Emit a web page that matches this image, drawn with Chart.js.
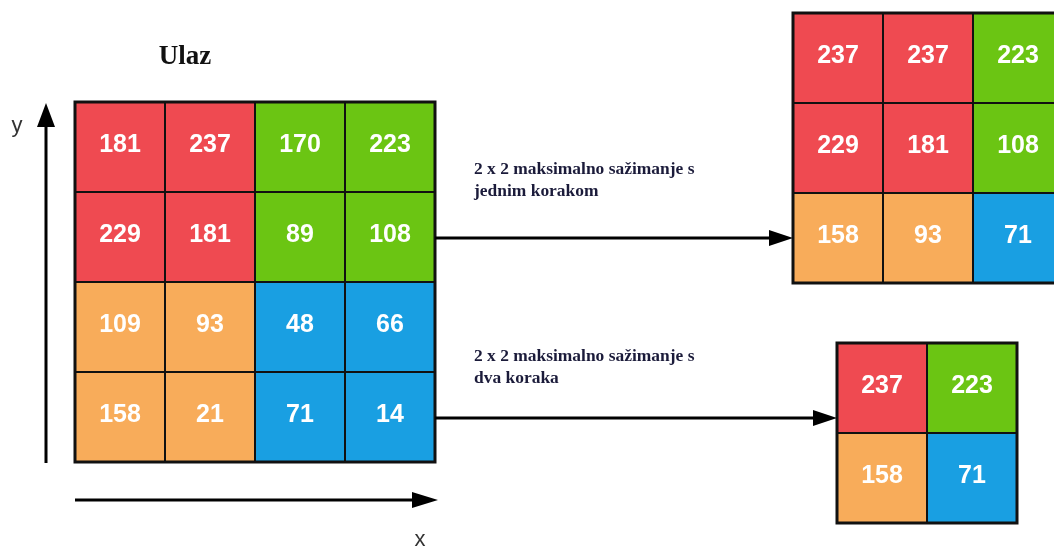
<!DOCTYPE html>
<html><head><meta charset="utf-8">
<script src="https://cdn.jsdelivr.net/npm/chart.js@4"></script>
<style>html,body{margin:0;padding:0;background:#fff;overflow:hidden}#wrap{width:1054px;height:546px;position:relative}</style>
</head><body><div id="wrap"><canvas id="c"></canvas></div>
<script>
// ---- data ----
const inputValues = [[181,237,170,223],[229,181,89,108],[109,93,48,66],[158,21,71,14]];
const inputGroups = [['A','A','B','B'],['A','A','B','B'],['C','C','D','D'],['C','C','D','D']];
const stride1Values = [[237,237,223],[229,181,108],[158,93,71]];
const stride1Groups = [['A','A','B'],['A','A','B'],['C','C','D']];
const stride2Values = [[237,223],[158,71]];
const stride2Groups = [['A','B'],['C','D']];
const titleText = 'Ulaz';
const axisLabelX = 'x';
const axisLabelY = 'y';
const captionStride1 = ['2 x 2 maksimalno sažimanje s','jednim korakom'];
const captionStride2 = ['2 x 2 maksimalno sažimanje s','dva koraka'];

// ---- layout / style ----
const groupColors = {A:'#EF4A51', B:'#6BC513', C:'#F8AC5A', D:'#199FE2'};
const layoutGrids = [
  {values: inputValues, groups: inputGroups, x: 75, y: 102, cell: 90},
  {values: stride1Values, groups: stride1Groups, x: 793, y: 13, cell: 90},
  {values: stride2Values, groups: stride2Groups, x: 837, y: 343, cell: 90}
];

const diagramPlugin = {
  id: 'diagram',
  afterDraw(chart) {
    const ctx = chart.ctx, sx = chart.scales.x, sy = chart.scales.y;
    const X = v => sx.getPixelForValue(v), Y = v => sy.getPixelForValue(v);
    ctx.save();
    // grids
    layoutGrids.forEach(g => {
      const rows = g.values.length, cols = g.values[0].length;
      for (let r = 0; r < rows; r++) for (let c = 0; c < cols; c++) {
        const x0 = X(g.x + c*g.cell), x1 = X(g.x + (c+1)*g.cell);
        const y0 = Y(g.y + r*g.cell), y1 = Y(g.y + (r+1)*g.cell);
        ctx.fillStyle = groupColors[g.groups[r][c]];
        ctx.fillRect(x0, y0, x1-x0, y1-y0);
      }
      ctx.strokeStyle = '#111';
      ctx.lineWidth = 2;
      for (let r = 0; r < rows; r++) for (let c = 0; c < cols; c++) {
        const x0 = X(g.x + c*g.cell), x1 = X(g.x + (c+1)*g.cell);
        const y0 = Y(g.y + r*g.cell), y1 = Y(g.y + (r+1)*g.cell);
        ctx.strokeRect(x0, y0, x1-x0, y1-y0);
      }
      ctx.lineWidth = 3;
      ctx.strokeRect(X(g.x), Y(g.y), X(g.x+cols*g.cell)-X(g.x), Y(g.y+rows*g.cell)-Y(g.y));
      ctx.fillStyle = '#fff';
      ctx.font = 'bold 25px "Liberation Sans", Arial, sans-serif';
      ctx.textAlign = 'center'; ctx.textBaseline = 'middle';
      for (let r = 0; r < rows; r++) for (let c = 0; c < cols; c++) {
        ctx.fillText(String(g.values[r][c]), X(g.x + (c+0.5)*g.cell), Y(g.y + (r+0.5)*g.cell) - 2);
      }
    });
    // arrows
    const arrow = (xa, ya, xb, yb, headLen, headW) => {
      const ang = Math.atan2(Y(yb)-Y(ya), X(xb)-X(xa));
      const bx = X(xb) - headLen*Math.cos(ang), by = Y(yb) - headLen*Math.sin(ang);
      ctx.strokeStyle = '#000'; ctx.fillStyle = '#000'; ctx.lineWidth = 3;
      ctx.beginPath(); ctx.moveTo(X(xa), Y(ya)); ctx.lineTo(bx, by); ctx.stroke();
      ctx.beginPath();
      ctx.moveTo(X(xb), Y(yb));
      ctx.lineTo(bx - headW/2*Math.sin(ang), by + headW/2*Math.cos(ang));
      ctx.lineTo(bx + headW/2*Math.sin(ang), by - headW/2*Math.cos(ang));
      ctx.closePath(); ctx.fill();
    };
    arrow(46, 463, 46, 103, 24, 18);
    arrow(75, 500, 438, 500, 26, 16);
    arrow(435, 238, 793, 238, 24, 16);
    arrow(435, 418, 837, 418, 24, 16);
    // texts
    ctx.fillStyle = '#111';
    ctx.font = 'bold 27px "Liberation Serif", "Times New Roman", serif';
    ctx.textAlign = 'center'; ctx.textBaseline = 'middle';
    ctx.fillText(titleText, X(185), Y(57));
    ctx.fillStyle = '#333';
    ctx.font = '22px "Liberation Sans", Arial, sans-serif';
    ctx.fillText(axisLabelY, X(17), Y(126));
    ctx.fillText(axisLabelX, X(420), Y(540));
    ctx.fillStyle = '#1b1b3a';
    ctx.font = 'bold 16px "Liberation Serif", "Times New Roman", serif';
    ctx.textAlign = 'left';
    const drawCaption = (lines, x0, y0) => {
      lines.forEach((t, i) => {
        ctx.save();
        ctx.translate(X(x0), Y(y0 + i*22));
        ctx.scale(1.09, 1);
        ctx.fillText(t, 0, 0);
        ctx.restore();
      });
    };
    drawCaption(captionStride1, 474, 170);
    drawCaption(captionStride2, 474, 357);
    ctx.restore();
  }
};

new Chart(document.getElementById('c'), {
  type: 'scatter',
  data: {datasets: [{data: [], pointRadius: 0}]},
  options: {
    responsive: true, maintainAspectRatio: false, animation: false,
    layout: {padding: 0},
    plugins: {legend: {display: false}, tooltip: {enabled: false}},
    scales: {
      x: {type: 'linear', min: 0, max: 1054, display: false},
      y: {type: 'linear', min: 0, max: 546, reverse: true, display: false}
    }
  },
  plugins: [diagramPlugin]
});
</script>
</body></html>
